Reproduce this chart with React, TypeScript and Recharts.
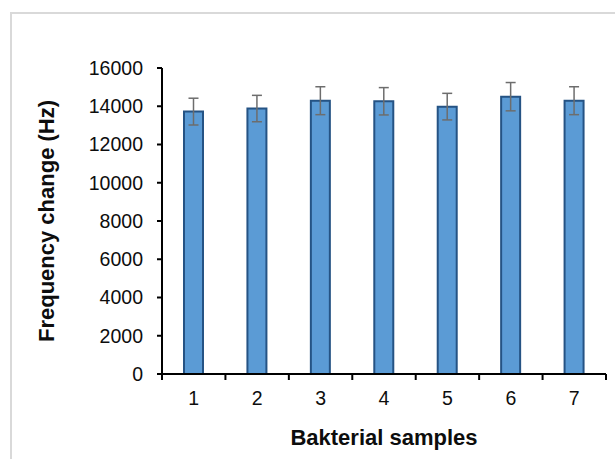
import React from 'react';
import { BarChart, Bar, XAxis, YAxis, ErrorBar, Label } from 'recharts';

// values
const samples = ['1', '2', '3', '4', '5', '6', '7'];
const frequencyChange = [13720, 13880, 14290, 14260, 13980, 14500, 14290];
const frequencyError = [700, 690, 730, 715, 695, 740, 730];
const yTicks = [0, 2000, 4000, 6000, 8000, 10000, 12000, 14000, 16000];

const data = samples.map((s, i) => ({
  sample: s,
  freq: frequencyChange[i],
  err: frequencyError[i],
}));

const FONT = '"Liberation Sans", Arial, sans-serif';
const AXIS = '#000000';

// Excel-style category axis: tick marks sit between the categories
const BoundaryTick = (props: any) => {
  const { x, y, payload } = props;
  const half = payload?.offset ?? 0;
  const top = y - 17;
  const isLast = payload.value === samples[samples.length - 1];
  return (
    <g>
      <line x1={x - half} y1={top} x2={x - half} y2={top + 6} stroke={AXIS} strokeWidth={2} />
      {isLast && (
        <line x1={x + half} y1={top} x2={x + half} y2={top + 6} stroke={AXIS} strokeWidth={2} />
      )}
      <text x={x} y={y} dy="0.71em" textAnchor="middle" fontSize={19.5} fill="#0d0d0d" fontFamily={FONT}>
        {payload.value}
      </text>
    </g>
  );
};

const App: React.FC = () => {
  return (
    <div
      style={{
        position: 'absolute',
        left: 0,
        top: 0,
        width: 615,
        height: 459,
        overflow: 'hidden',
        background: '#fff',
      }}
    >
      <div
        style={{
          position: 'absolute',
          left: 10,
          top: 12,
          width: 700,
          height: 600,
          border: '2px solid #d9d9d9',
        }}
      />
      <div style={{ position: 'absolute', left: 0, top: 0 }}>
        <BarChart
          width={615}
          height={459}
          data={data}
          margin={{ top: 68, right: 9, left: 0, bottom: 0 }}
          barSize={19}
        >
          <XAxis
            dataKey="sample"
            height={85}
            axisLine={{ stroke: AXIS, strokeWidth: 2 }}
            tickLine={false}
            tick={<BoundaryTick />}
            tickSize={6}
            tickMargin={11}
            interval={0}
          >
            <Label
              value="Bakterial samples"
              position="insideBottom"
              offset={14}
              style={{ fontFamily: FONT, fontSize: 22, fontWeight: 700, fill: '#0d0d0d' }}
            />
          </XAxis>
          <YAxis
            width={162}
            domain={[0, 16000]}
            ticks={yTicks}
            interval={0}
            axisLine={{ stroke: AXIS, strokeWidth: 2 }}
            tickLine={{ stroke: AXIS, strokeWidth: 2 }}
            tickSize={5}
            tickMargin={14}
            tick={{ fontSize: 19.5, fill: '#0d0d0d', fontFamily: FONT }}
          >
            <Label
              value="Frequency change (Hz)"
              angle={-90}
              position="insideLeft"
              offset={46}
              style={{ fontFamily: FONT, fontSize: 22, fontWeight: 700, fill: '#0d0d0d', textAnchor: 'middle' }}
            />
          </YAxis>
          <Bar dataKey="freq" fill="#5b9bd5" stroke="#255384" strokeWidth={2} isAnimationActive={false}>
            <ErrorBar dataKey="err" width={5} stroke="#6d6d6d" strokeWidth={1.5} isAnimationActive={false} />
          </Bar>
        </BarChart>
      </div>
    </div>
  );
};

export default App;
